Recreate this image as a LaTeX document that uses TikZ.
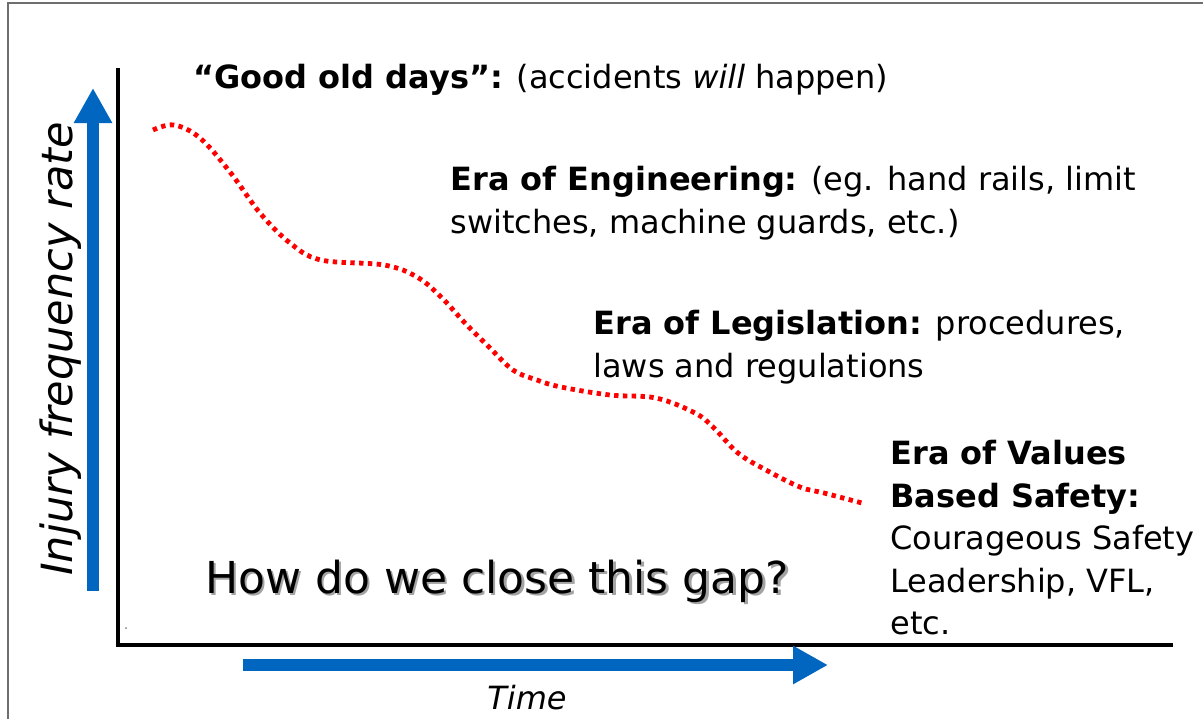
\documentclass[tikz,border=0pt]{standalone}
\usepackage{fontspec}
\setmainfont{DejaVu Sans}
\usetikzlibrary{arrows.meta}

\definecolor{arrowblue}{RGB}{0,102,192}
\definecolor{framegray}{RGB}{110,110,110}

\tikzset{
    eratext/.style={anchor=north west, inner sep=0pt, align=left, font=\fontsize{16}{21.25}\selectfont},
    bigarrow/.style={arrowblue, line width=6pt, -{Triangle[length=17.5pt,width=18pt]}},
    trend/.style={red, line width=2.4pt, dash pattern=on 2.2pt off 2.2pt},
}

\begin{document}
\begin{tikzpicture}[x=0.5pt,y=-0.5pt]
    \useasboundingbox (0,0) rectangle (1203,719);
    \draw[framegray, line width=0.75pt] (8,719)--(8,3)--(1203,3);

    % axes
    \coordinate (ytip) at (118,68);
    \coordinate (origin) at (118,645);
    \coordinate (xtip) at (1173,645);
    \draw[line width=2.25pt] (ytip)--(origin)--(xtip);
    \fill[gray] (126,628) circle (0.5pt);

    \coordinate (upfrom) at (93,591);
    \coordinate (upto) at (93,88);
    \draw[bigarrow] (upfrom)--(upto);
    \coordinate (timefrom) at (243,665);
    \coordinate (timeto) at (828,665);
    \draw[bigarrow] (timefrom)--(timeto);

    \node[rotate=90, anchor=base, inner sep=0pt, font=\itshape\fontsize{21.5}{26}\selectfont] (rate) at (72,349) {Injury frequency rate};
    \node[anchor=base, inner sep=0pt, font=\itshape\fontsize{16}{20}\selectfont] (time) at (527,709) {Time};

    % red trend
    \draw[trend] plot[smooth, tension=0.6] coordinates {(153,130) (174,125) (200,138) (230,172) (260,213) (290,243) (321,260) (384,265) (417,277) (441,297) (465,323) (489,347) (513,370) (537,380) (561,387) (610,395) (656,398) (695,413) (714,428) (738,453) (766,470) (800,487) (824,493) (862,503)};

    % eras
    \node[anchor=base west, inner sep=0pt, font=\fontsize{16}{21.25}\selectfont] (good) at (193,88) {\textbf{``Good old days'':} (accidents \textit{will} happen)};
    \node[eratext] (eng) at (450,166) {\textbf{Era of Engineering:} (eg. hand rails, limit\\switches, machine guards, etc.)};
    \node[eratext] (legis) at (593,310) {\textbf{Era of Legislation:} procedures,\\laws and regulations};
    \node[eratext] (values) at (890,440) {\textbf{Era of Values}\\\textbf{Based Safety:}\\Courageous Safety\\Leadership, VFL,\\etc.};

    \node[anchor=base west, inner sep=0pt, black!60, opacity=0.6, font=\fontsize{22}{26}\selectfont] (gapshadow) at (207.5,595.5) {How do we close this gap?};
    \node[anchor=base west, inner sep=0pt, font=\fontsize{22}{26}\selectfont] (gap) at (205,593) {How do we close this gap?};
\end{tikzpicture}
\end{document}
